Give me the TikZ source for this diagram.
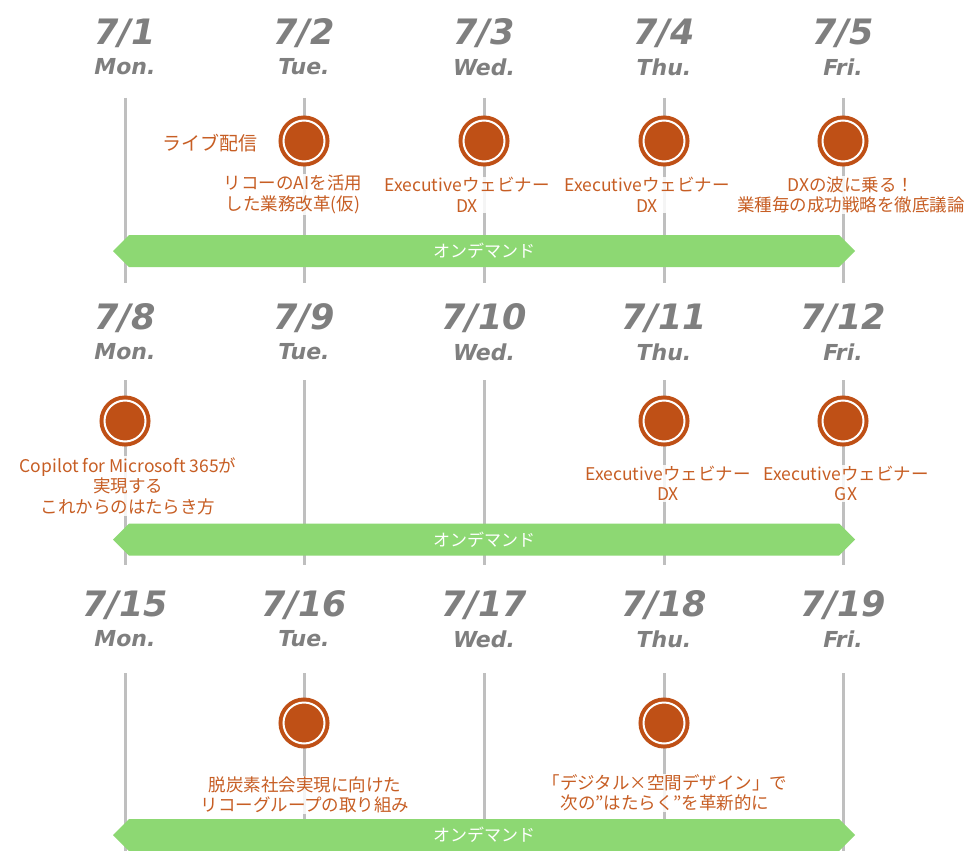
\documentclass[tikz,border=0pt]{standalone}
\usepackage{fontspec}
\newfontfamily\jp{Noto Sans CJK JP}
\newfontfamily\datef{DejaVu Sans}
\definecolor{datec}{RGB}{127,127,127}
\definecolor{linec}{RGB}{191,191,191}
\definecolor{evc}{RGB}{191,80,22}
\definecolor{txtc}{RGB}{199,94,36}
\definecolor{grn}{RGB}{141,216,115}
\begin{document}
\begin{tikzpicture}[x=1pt,y=-1pt,
  datenode/.style={font=\datef\bfseries\itshape\fontsize{35}{35}\selectfont, text=datec, inner sep=0pt},
  daynode/.style={font=\datef\bfseries\itshape\fontsize{22}{22}\selectfont, text=datec, inner sep=0pt},
  vline/.style={draw=linec, line width=3pt},
  evdot/.style={circle, draw=evc, fill=evc, line width=4pt, double=white, double distance=2pt, minimum size=41pt, inner sep=0pt, outer sep=0pt},
  evlabel/.style={font=\jp\fontsize{17.5}{20.5}\selectfont, text=txtc, align=center, fill=white, fill opacity=0.85, text opacity=1, inner sep=1pt},
  barlabel/.style={font=\jp\fontsize{17}{17}\selectfont, text=white, inner sep=0pt},
  barshape/.style={fill=grn}
]
\useasboundingbox (0,0) rectangle (967,851);
\fill[white] (0,0) rectangle (967,851);

% vertical lines
\foreach \x in {125,304,484,664,843}{
  \draw[vline] (\x,98) -- (\x,283);
  \draw[vline] (\x,380) -- (\x,565);
  \draw[vline] (\x,673) -- (\x,851);
}

% dates row 1
\node[datenode] (d1) at (125,33) {7/1};
\node[datenode] (d2) at (304,33) {7/2};
\node[datenode] (d3) at (484,33) {7/3};
\node[datenode] (d4) at (664,33) {7/4};
\node[datenode] (d5) at (843,33) {7/5};
\node[daynode] (w1) at (125,67) {Mon.};
\node[daynode] (w2) at (304,67) {Tue.};
\node[daynode] (w3) at (484,67) {Wed.};
\node[daynode] (w4) at (664,67) {Thu.};
\node[daynode] (w5) at (843,67) {Fri.};
% dates row 2
\node[datenode] (d8) at (125,318) {7/8};
\node[datenode] (d9) at (304,318) {7/9};
\node[datenode] (d10) at (484,318) {7/10};
\node[datenode] (d11) at (664,318) {7/11};
\node[datenode] (d12) at (843,318) {7/12};
\node[daynode] (w8) at (125,352) {Mon.};
\node[daynode] (w9) at (304,352) {Tue.};
\node[daynode] (w10) at (484,352) {Wed.};
\node[daynode] (w11) at (664,352) {Thu.};
\node[daynode] (w12) at (843,352) {Fri.};
% dates row 3
\node[datenode] (d15) at (125,605) {7/15};
\node[datenode] (d16) at (304,605) {7/16};
\node[datenode] (d17) at (484,605) {7/17};
\node[datenode] (d18) at (664,605) {7/18};
\node[datenode] (d19) at (843,605) {7/19};
\node[daynode] (w15) at (125,639) {Mon.};
\node[daynode] (w16) at (304,639) {Tue.};
\node[daynode] (w17) at (484,639) {Wed.};
\node[daynode] (w18) at (664,639) {Thu.};
\node[daynode] (w19) at (843,639) {Fri.};

% green on-demand bars
\foreach \yc/\nm in {251/b1,539.5/b2,835/b3}{
  \fill[barshape] (113,\yc) -- (129,\yc-16) -- (839,\yc-16) -- (855,\yc) -- (839,\yc+16) -- (129,\yc+16) -- cycle;
  \node[barlabel] (\nm) at (484,\yc) {オンデマンド};
}

% events
\node[evdot] (e2) at (304,141) {};
\node[evdot] (e3) at (484,141) {};
\node[evdot] (e4) at (664,141) {};
\node[evdot] (e5) at (843,141) {};
\node[evdot] (e8) at (125,421) {};
\node[evdot] (e11) at (664,421) {};
\node[evdot] (e12) at (843,421) {};
\node[evdot] (e16) at (304,723) {};
\node[evdot] (e18) at (664,723) {};

\node[font=\jp\fontsize{19}{19}\selectfont, text=txtc, inner sep=0pt] (live) at (210,143) {ライブ配信};

\node[evlabel] (l2) at (293,194.5) {リコーのAIを活用\\した業務改革(仮)};
\node[evlabel] (l3) at (467,195) {Executiveウェビナー\\DX};
\node[evlabel] (l4) at (647,195) {Executiveウェビナー\\DX};
\node[evlabel] (l5) at (851,195) {DXの波に乗る！\\業種毎の成功戦略を徹底議論};
\node[evlabel] (l8) at (128,486) {Copilot for Microsoft 365が\\実現する\\これからのはたらき方};
\node[evlabel] (l11) at (668,483.5) {Executiveウェビナー\\DX};
\node[evlabel] (l12) at (846,483.5) {Executiveウェビナー\\GX};
\node[evlabel] (l16) at (305,795) {脱炭素社会実現に向けた\\リコーグループの取り組み};
\node[evlabel] (l18) at (665,793) {「デジタル×空間デザイン」で\\次の”はたらく”を革新的に};
\end{tikzpicture}
\end{document}
